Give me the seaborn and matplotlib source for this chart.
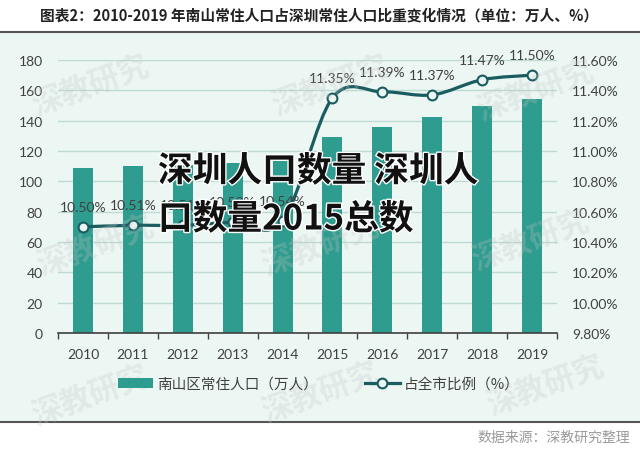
import numpy as np
import pandas as pd
import matplotlib
matplotlib.use("Agg")
import matplotlib.pyplot as plt
import seaborn as sns
from matplotlib.path import Path
from matplotlib.patches import PathPatch, Rectangle, Patch
from matplotlib.lines import Line2D
import matplotlib.patheffects as pe

# ---------------- data ----------------
years = ["2010", "2011", "2012", "2013", "2014", "2015", "2016", "2017", "2018", "2019"]
population = [108.9, 110.0, 110.9, 111.9, 113.6, 129.1, 135.6, 142.4, 149.4, 154.5]
share = [10.50, 10.51, 10.51, 10.53, 10.54, 11.35, 11.39, 11.37, 11.47, 11.50]
left_ticks = [0, 20, 40, 60, 80, 100, 120, 140, 160, 180]
right_ticks = [9.8, 10.0, 10.2, 10.4, 10.6, 10.8, 11.0, 11.2, 11.4, 11.6]
bar_label = "南山区常住人口（万人）"
line_label = "占全市比例（%）"
title = "图表2：2010-2019 年南山常住人口占深圳常住人口比重变化情况（单位：万人、%）"
source = "数据来源：深教研究整理"
overlay1 = "深圳人口数量 深圳人"
overlay2 = "口数量2015总数"
watermark = "深教研究"

BAR = "#2E9C8E"
LINE = "#1A5C60"
BG = "#ECF7F3"
GRID = "#BFD9D3"
TXT = "#404040"
CJK = ["Noto Sans CJK SC", "DejaVu Sans"]
LAT = ["Lato", "DejaVu Sans"]

W, H = 640, 452
fig = plt.figure(figsize=(W / 100, H / 100), dpi=100)

def fx(px):
    return px / W

def fy(py):
    return 1 - py / H

# background band with top / bottom rules
fig.patches.append(Rectangle((0, fy(423)), 1, fy(33) - fy(423), transform=fig.transFigure,
                             facecolor=BG, edgecolor="none", zorder=-10))
fig.add_artist(Line2D([0, 1], [fy(33), fy(33)], transform=fig.transFigure, color="#555555", lw=1.5, zorder=-5))
fig.add_artist(Line2D([0, 1], [fy(423), fy(423)], transform=fig.transFigure, color="#555555", lw=1.5, zorder=-5))

ax = fig.add_axes([fx(58), fy(334), fx(557) - fx(58), fy(61) - fy(334)])
ax.set_facecolor("none")

df = pd.DataFrame({"year": years, "population": population})
sns.barplot(data=df, x="year", y="population", color=BAR, saturation=1, width=0.4, ax=ax, zorder=2)
ax.set_xlim(-0.5, len(years) - 0.5)
ax.set_ylim(left_ticks[0], left_ticks[-1])
ax.set_yticks(left_ticks)
ax.set_yticklabels([str(t) for t in left_ticks], family=LAT, fontsize=10, color=TXT)
ax.set_xticks(range(len(years)))
ax.set_xticklabels(years, family=LAT, fontsize=10, color=TXT)
ax.set_xlabel("")
ax.set_ylabel("")
ax.tick_params(axis="y", length=0, pad=11)
ax.tick_params(axis="x", which="major", length=0, pad=11)
ax.set_xticks(np.arange(-0.5, len(years)), minor=True)
ax.tick_params(axis="x", which="minor", length=4, width=1, color=TXT, direction="out")
for s in ["top", "left", "right"]:
    ax.spines[s].set_visible(False)
ax.spines["bottom"].set_color(TXT)
ax.spines["bottom"].set_linewidth(1.2)
ax.set_axisbelow(True)
ax.yaxis.grid(True, color=GRID, lw=1)
ax.xaxis.grid(False)

ax2 = ax.twinx()
ax2.set_facecolor("none")
ax2.set_ylim(right_ticks[0], right_ticks[-1])
ax2.set_yticks(right_ticks)
ax2.set_yticklabels([f"{t:.2f}%" for t in right_ticks], family=LAT, fontsize=10, color=TXT)
ax2.tick_params(axis="y", length=0, pad=11)
for s in ["top", "left", "right", "bottom"]:
    ax2.spines[s].set_visible(False)

# smoothed line (Catmull-Rom style Bezier through the data points)
pts = np.column_stack([np.arange(len(share)), share]).astype(float)
n = len(pts)
verts = [tuple(pts[0])]
codes = [Path.MOVETO]
for i in range(n - 1):
    p0 = pts[max(i - 1, 0)]
    p1 = pts[i]
    p2 = pts[i + 1]
    p3 = pts[min(i + 2, n - 1)]
    c1 = p1 + (p2 - p0) / 6.0
    c2 = p2 - (p3 - p1) / 6.0
    verts += [tuple(c1), tuple(c2), tuple(p2)]
    codes += [Path.CURVE4] * 3
ax2.add_patch(PathPatch(Path(verts, codes), facecolor="none", edgecolor=LINE, lw=2.3, zorder=3,
                        capstyle="round", joinstyle="round"))
sns.scatterplot(x=np.arange(n), y=share, ax=ax2, s=50, color="#EAF6F3", edgecolor=LINE,
                linewidth=1.5, zorder=4, legend=False)
ax2.set_ylabel("")
for i, v in enumerate(share):
    ax2.annotate(f"{v:.2f}%", (i, v), xytext=(0, 14.5), textcoords="offset points",
                 ha="center", va="center", fontsize=10, color=TXT, family=LAT, zorder=5)

# legend
handles = [Patch(facecolor=BAR, edgecolor="none"),
           Line2D([0], [0], color=LINE, lw=2.3, marker="o", markersize=7,
                  markerfacecolor="#EAF6F3", markeredgecolor=LINE, markeredgewidth=1.5)]
leg = fig.legend(handles, [bar_label, line_label], loc="center", bbox_to_anchor=(fx(319), fy(385)),
                 ncol=2, frameon=False, handlelength=2.4, handletextpad=0.3, columnspacing=3.2,
                 prop={"family": CJK, "size": 10.5})
for t in leg.get_texts():
    t.set_color(TXT)

# watermarks
for (wx, wy) in [(90, 85), (330, 85), (535, 90), (95, 245), (320, 245), (530, 240),
                 (90, 395), (320, 392), (545, 385)]:
    fig.text(fx(wx), fy(wy), watermark, rotation=20, ha="center", va="center", fontsize=22,
             fontweight="bold", family=CJK, color="#C4C4C4", alpha=0.28, zorder=2)

# title & source
fig.text(fx(40), fy(16), title, ha="left", va="center", fontsize=10.6, fontweight="bold",
         family=CJK, color="#222222")
fig.text(fx(630), fy(438), source, ha="right", va="center", fontsize=10, family=CJK, color="#9A9A9A")

# overlay text
stroke = [pe.withStroke(linewidth=2, foreground="white")]
fig.text(fx(158), fy(172), overlay1, ha="left", va="center", fontsize=25, fontweight="bold",
         family=CJK, color="#111111", path_effects=stroke, zorder=10)
fig.text(fx(158), fy(220), overlay2, ha="left", va="center", fontsize=25, fontweight="bold",
         family=CJK, color="#111111", path_effects=stroke, zorder=10)

fig.savefig("out.png", dpi=100)
